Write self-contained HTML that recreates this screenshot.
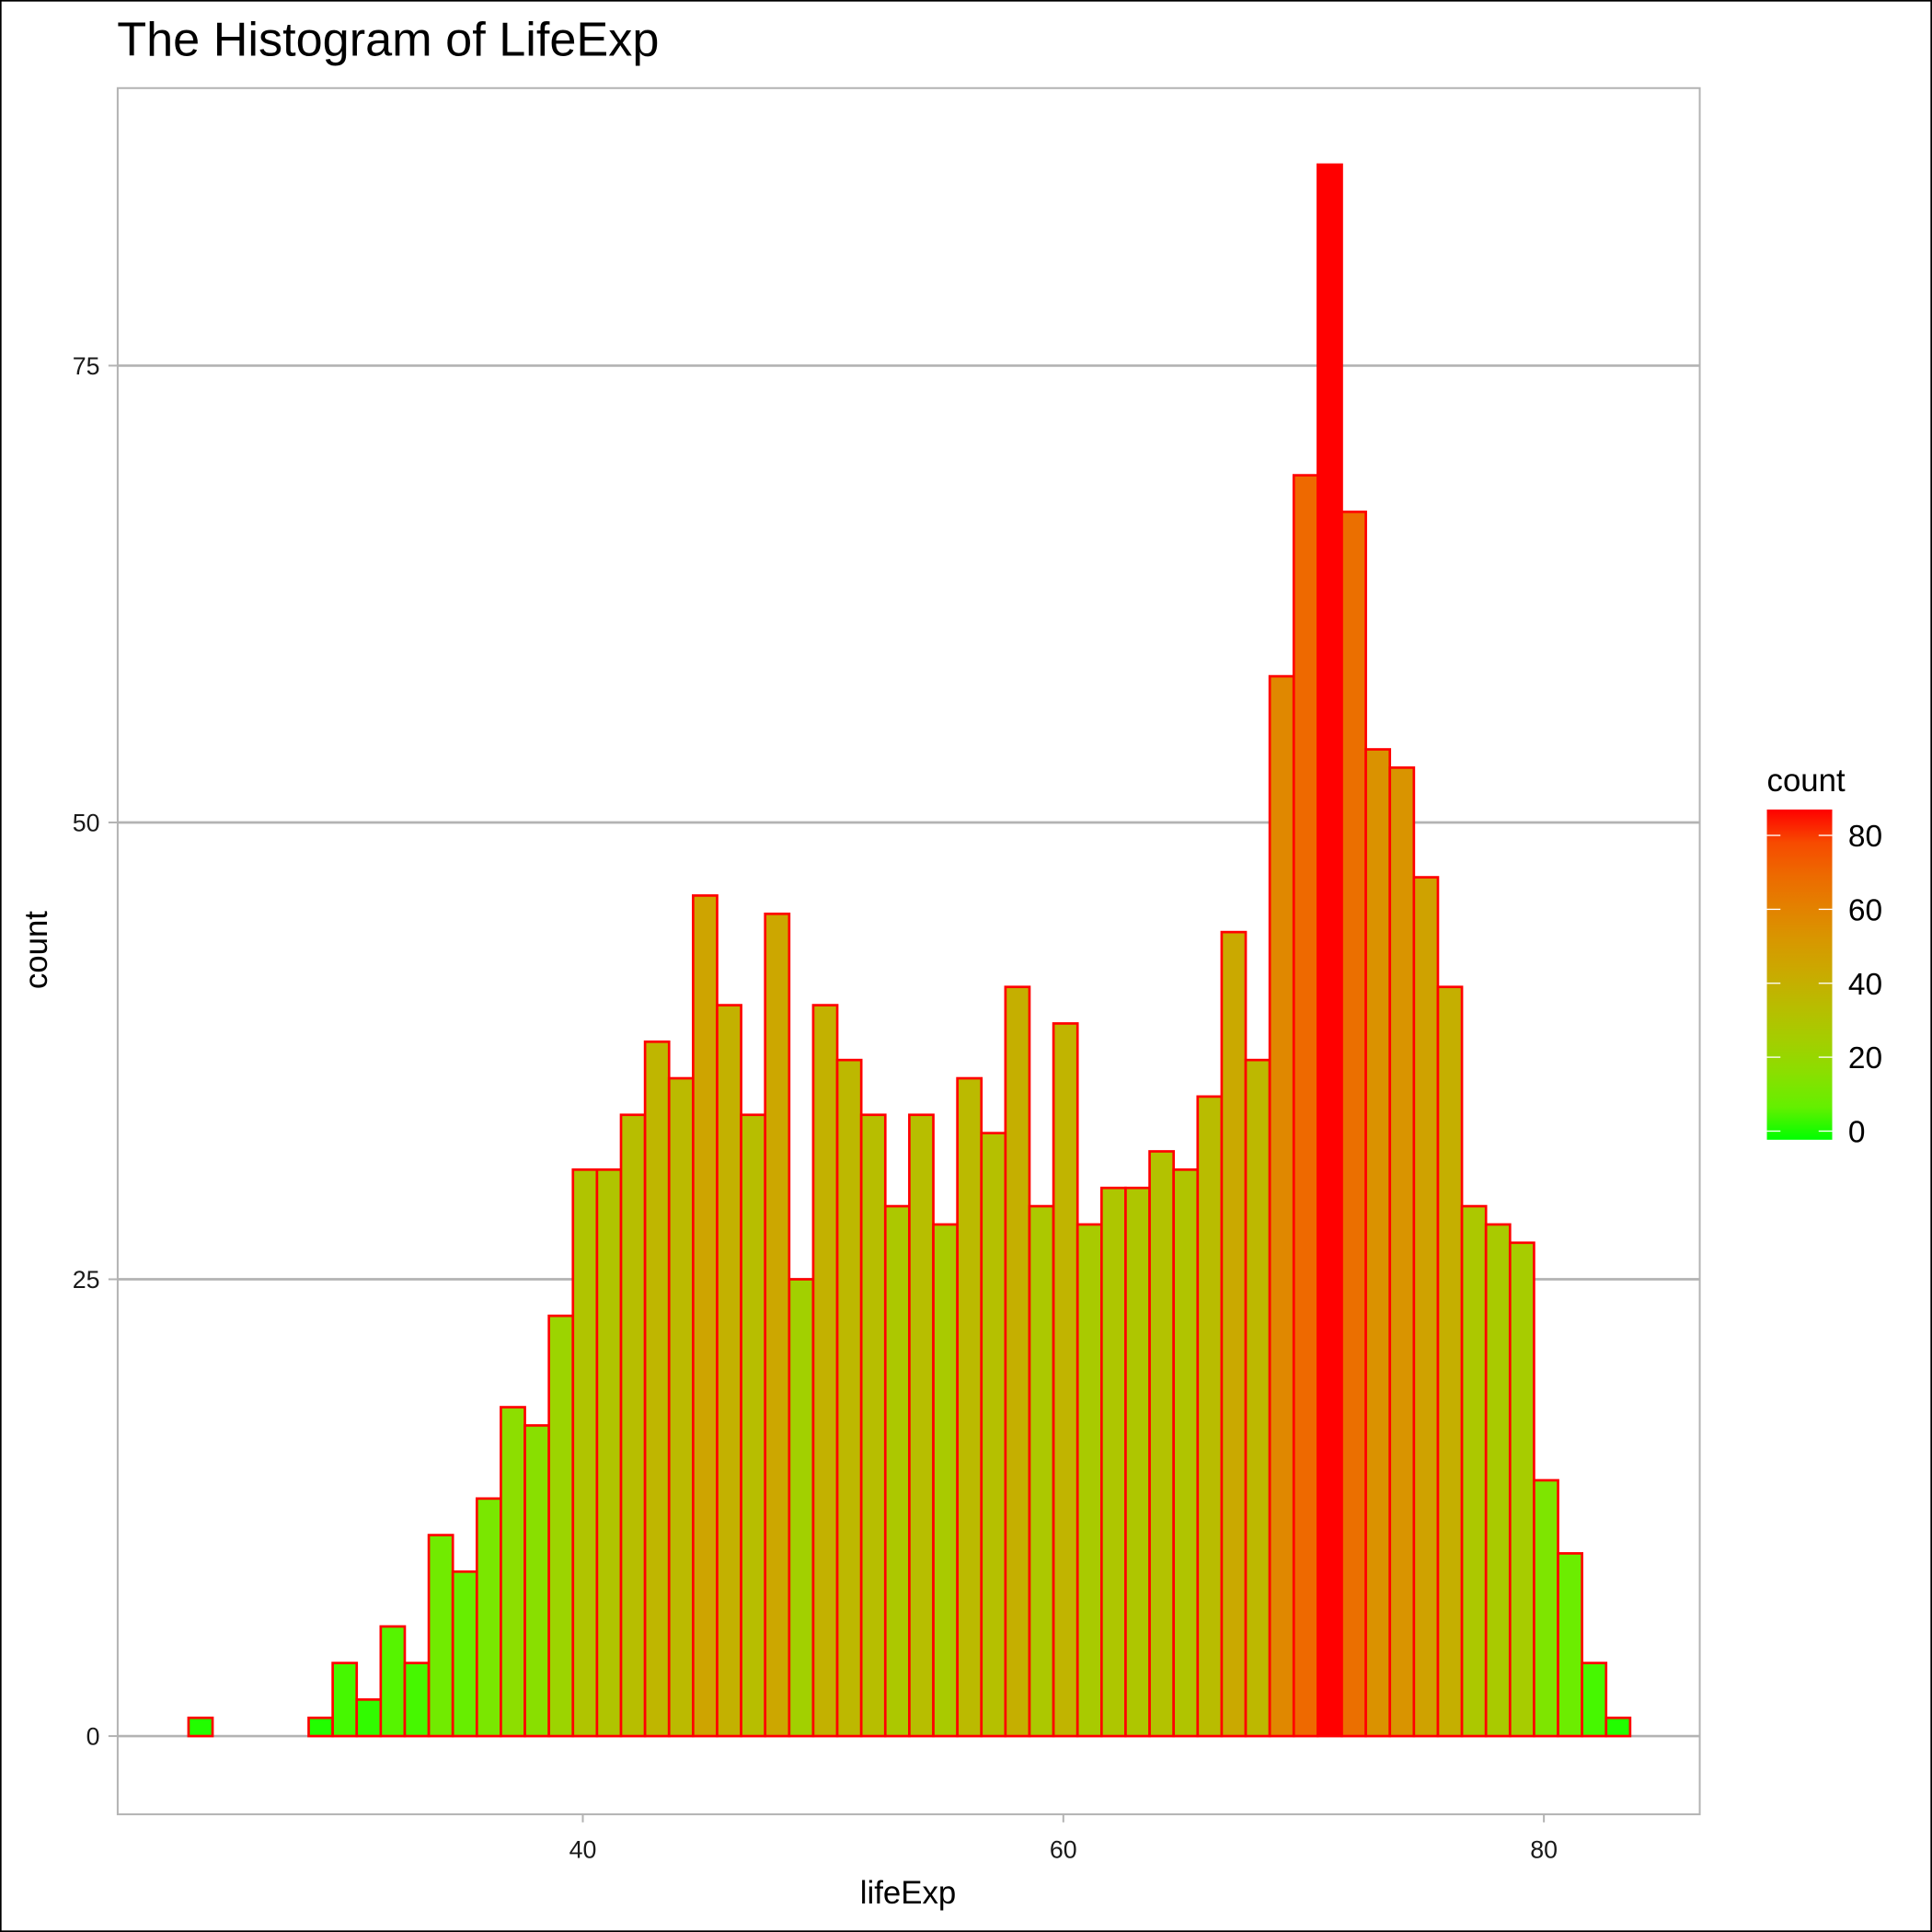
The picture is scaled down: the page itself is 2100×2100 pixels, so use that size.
<!DOCTYPE html>
<html><head><meta charset="utf-8"><style>html,body{margin:0;padding:0;background:#fff}svg{display:block}text{font-family:"Liberation Sans",Arial,sans-serif}</style></head>
<body>
<svg id="chart" width="2100" height="2100" viewBox="0 0 1568 1568" xmlns="http://www.w3.org/2000/svg">
<defs><linearGradient id="lg" x1="0" y1="1" x2="0" y2="0"></linearGradient></defs>
<rect x="0.5" y="0.5" width="1567" height="1567" fill="#fff" stroke="#000" stroke-width="1.5"/>
<text x="95" y="45" font-size="39" fill="#000">The Histogram of LifeExp</text>
<g id="grid"></g>
<g id="bars"></g>
<rect x="95.5" y="71.5" width="1284" height="1401" fill="none" stroke="#b3b3b3" stroke-width="1.5"/>
<g id="axes"></g>
<text x="38" y="771" font-size="26" text-anchor="middle" transform="rotate(-90 38 771)">count</text>
<text x="737" y="1545" font-size="26" text-anchor="middle">lifeExp</text>
<g id="legend"></g>
</svg>
<script>
const counts=[1,0,0,0,0,1,4,2,6,4,11,9,13,18,17,23,31,31,34,38,36,46,40,34,45,25,40,37,34,29,34,28,36,33,41,29,39,28,30,30,32,31,35,44,37,58,69,86,67,54,53,47,41,29,28,27,14,10,4,1];
const binStart=23.59, binWidth=1;
const yTicks=[0,25,50,75];
const xTicks=[40,60,80];
const legendTicks=[0,20,40,60,80];
const NS="http://www.w3.org/2000/svg";
const X=v=>473+(v-40)*19.5;
const Y=v=>1409-v*14.83;
const maxC=Math.max(...counts);
function mk(t,a,p){const e=document.createElementNS(NS,t);for(const k in a)e.setAttribute(k,a[k]);p.appendChild(e);return e;}
function toLin(c){c/=255;return c<=0.04045?c/12.92:Math.pow((c+0.055)/1.055,2.4);}
function fromLin(c){c=c<=0.0031308?12.92*c:1.055*Math.pow(c,1/2.4)-0.055;return Math.round(Math.max(0,Math.min(1,c))*255);}
function rgb2lab(r,g,b){r=toLin(r);g=toLin(g);b=toLin(b);let x=(0.4124*r+0.3576*g+0.1805*b)/0.95047,y=0.2126*r+0.7152*g+0.0722*b,z=(0.0193*r+0.1192*g+0.9505*b)/1.08883;const f=t=>t>0.008856?Math.cbrt(t):7.787*t+16/116;x=f(x);y=f(y);z=f(z);return[116*y-16,500*(x-y),200*(y-z)];}
function lab2rgb(L,a,bb){let y=(L+16)/116,x=a/500+y,z=y-bb/200;const fi=t=>t*t*t>0.008856?t*t*t:(t-16/116)/7.787;x=fi(x)*0.95047;y=fi(y);z=fi(z)*1.08883;const r=3.2406*x-1.5372*y-0.4986*z,g=-0.9689*x+1.8758*y+0.0415*z,b=0.0557*x-0.2040*y+1.0570*z;return`rgb(${fromLin(r)},${fromLin(g)},${fromLin(b)})`;}
const lo=rgb2lab(0,255,0),hi=rgb2lab(255,0,0);
function col(v){const t=Math.max(0,Math.min(1,v/maxC));return lab2rgb(lo[0]+(hi[0]-lo[0])*t,lo[1]+(hi[1]-lo[1])*t,lo[2]+(hi[2]-lo[2])*t);}
const grid=document.getElementById('grid'),axes=document.getElementById('axes'),bars=document.getElementById('bars'),leg=document.getElementById('legend');
yTicks.forEach(v=>{
 const l=mk('line',{x1:95,x2:1379,y1:Y(v),y2:Y(v),stroke:'#b3b3b3','stroke-width':2},grid);
 
 
 mk('line',{x1:88,x2:95,y1:Y(v),y2:Y(v),stroke:'#b3b3b3','stroke-width':1.5},axes);
 const t=mk('text',{x:81,y:Y(v)+7,'font-size':20,'text-anchor':'end',fill:'#1a1a1a'},axes);t.textContent=v;
 
 
});
xTicks.forEach(v=>{
 mk('line',{x1:X(v),x2:X(v),y1:1472,y2:1479,stroke:'#b3b3b3','stroke-width':1.5},axes);
 const t=mk('text',{x:X(v),y:1508,'font-size':20,'text-anchor':'middle',fill:'#1a1a1a'},axes);t.textContent=v;
 
 
});
counts.forEach((c,i)=>{
 const x0=X(binStart+i*binWidth),x1=X(binStart+(i+1)*binWidth);
 const r=mk('rect',{x:x0,y:Y(c),width:x1-x0,height:Y(0)-Y(c),fill:col(c),stroke:'#ff0000','stroke-width':2},bars);
 
 
});
const lt=mk('text',{x:1434,y:642,'font-size':26},leg);lt.textContent='count';


const LY=v=>918-v*3;
const g=document.getElementById('lg');
for(let k=0;k<=10;k++){mk('stop',{offset:k/10,'stop-color':col(maxC*k/10)},g);}
const cb=mk('rect',{x:1434,y:657,width:53,height:268,fill:'url(#lg)'},leg);


legendTicks.forEach(v=>{
 mk('line',{x1:1434,x2:1445,y1:LY(v),y2:LY(v),stroke:'#fff','stroke-width':1},leg);
 mk('line',{x1:1476,x2:1487,y1:LY(v),y2:LY(v),stroke:'#fff','stroke-width':1},leg);
 const t=mk('text',{x:1500,y:LY(v)+9,'font-size':25,fill:'#000'},leg);t.textContent=v;
 
 
});
</script>
</body></html>
